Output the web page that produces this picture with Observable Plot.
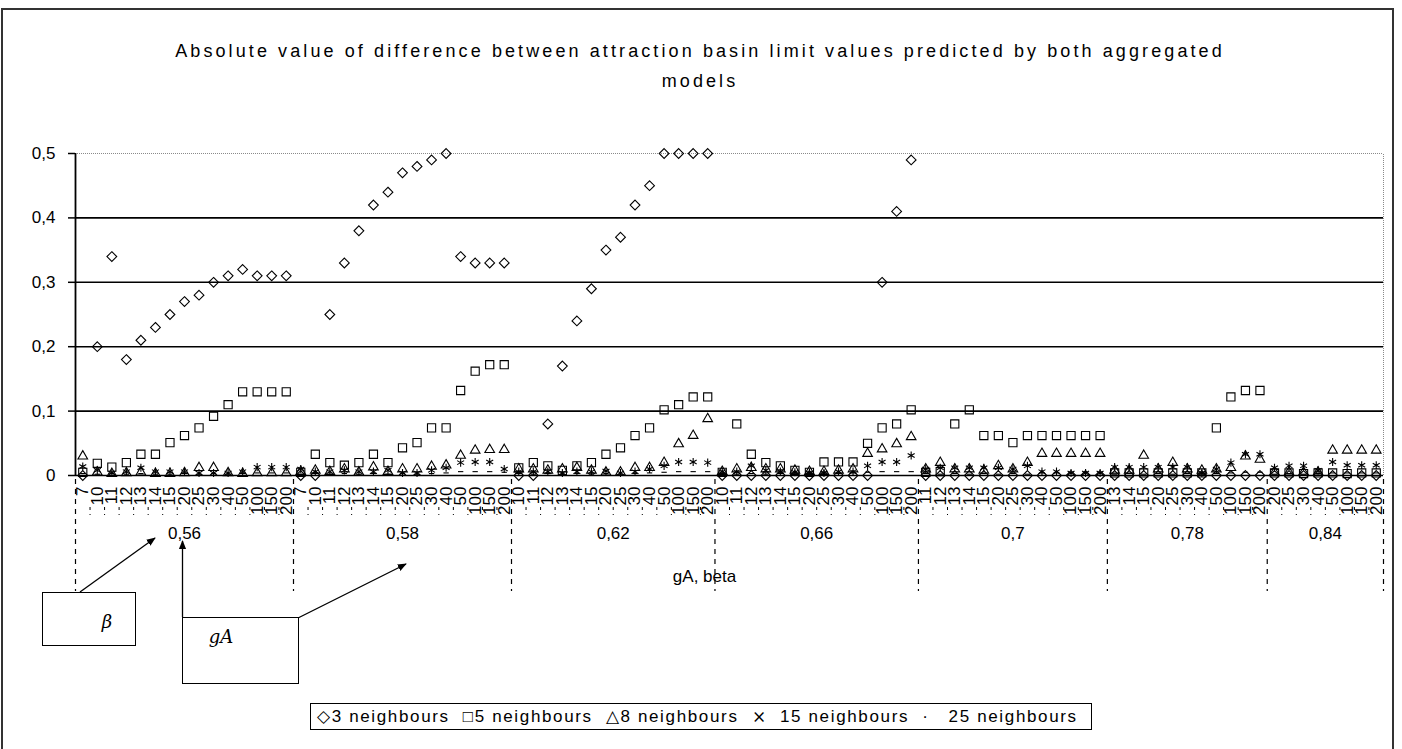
<!DOCTYPE html>
<html><head><meta charset="utf-8">
<script src="https://cdn.jsdelivr.net/npm/d3@7"></script>
<script src="https://cdn.jsdelivr.net/npm/@observablehq/plot@0.6"></script>
<style>
body{margin:0;background:#fff;font-family:"Liberation Sans",Arial,sans-serif;color:#000;}
#page{position:relative;width:1402px;height:749px;overflow:hidden;background:#fff;}
#frame{position:absolute;left:1px;top:8px;width:1393px;height:800px;border:2px solid #333;box-sizing:border-box;}
#title{position:absolute;left:50px;width:1300px;top:36px;text-align:center;font-size:18px;line-height:30px;letter-spacing:3.1px;}
#chart{position:absolute;left:0;top:120px;}
#legend{position:absolute;left:310px;top:703px;width:782px;height:27px;border:1px solid #000;box-sizing:border-box;font-size:17px;line-height:25px;white-space:nowrap;padding-left:6px;letter-spacing:1.65px;}
#legend span{margin-right:13px;}
#notes{position:absolute;left:0;top:0;pointer-events:none;}
</style></head>
<body>
<div id="page">
  <div id="frame"></div>
  <div id="title">Absolute value of difference between attraction basin limit values predicted by both aggregated<br>models</div>
  <div id="chart"></div>
  <svg id="notes" width="1402" height="749">
    <defs>
      <marker id="ah" viewBox="0 0 10 10" refX="9" refY="5" markerWidth="7" markerHeight="7" orient="auto-start-reverse">
        <path d="M0,1 L10,5 L0,9 z" fill="#000"/>
      </marker>
    </defs>
    <rect x="42.5" y="592.5" width="93" height="53" fill="#fff" stroke="#000"/>
    <text x="107" y="628" font-family="DejaVu Serif, serif" font-style="italic" font-size="18" text-anchor="middle">β</text>
    <line x1="80" y1="592" x2="155" y2="538" stroke="#000" stroke-width="1.3" marker-end="url(#ah)"/>
    <rect x="182.5" y="617.5" width="116" height="66" fill="#fff" stroke="#000"/>
    <text x="221" y="643" font-family="DejaVu Serif, serif" font-style="italic" font-size="18" text-anchor="middle">gA</text>
    <line x1="182.5" y1="617" x2="182.5" y2="541" stroke="#000" stroke-width="1.3" marker-end="url(#ah)"/>
    <line x1="298" y1="618" x2="406" y2="564" stroke="#000" stroke-width="1.3" marker-end="url(#ah)"/>
  </svg>
  <div id="legend"><span>◇3 neighbours</span><span>□5 neighbours</span><span>△8 neighbours</span><span>⨯&nbsp;&nbsp;15 neighbours</span><span>·&nbsp;&nbsp;&nbsp;25 neighbours</span></div>
</div>
<script>
// group (gA) labels and beta labels per group
const gAValues = ["0,56", "0,58", "0,62", "0,66", "0,7", "0,78", "0,84"];
const betaG056 = ["7","10","11","12","13","14","15","20","25","30","40","50","100","150","200"];
const betaG058 = ["7","10","11","12","13","14","15","20","25","30","40","50","100","150","200"];
const betaG062 = ["10","11","12","13","14","15","20","25","30","40","50","100","150","200"];
const betaG066 = ["10","11","12","13","14","15","20","25","30","40","50","100","150","200"];
const betaG070 = ["11","12","13","14","15","20","25","30","40","50","100","150","200"];
const betaG078 = ["13","14","15","20","25","30","40","50","100","150","200"];
const betaG084 = ["20","25","30","40","50","100","150","200"];
const yTicks = [0, 0.1, 0.2, 0.3, 0.4, 0.5];

// series values, one per category (in group order)
const n3 = [
  0, 0.20, 0.34, 0.18, 0.21, 0.23, 0.25, 0.27, 0.28, 0.30, 0.31, 0.32, 0.31, 0.31, 0.31,
  0, 0, 0.25, 0.33, 0.38, 0.42, 0.44, 0.47, 0.48, 0.49, 0.50, 0.34, 0.33, 0.33, 0.33,
  0, 0, 0.08, 0.17, 0.24, 0.29, 0.35, 0.37, 0.42, 0.45, 0.50, 0.50, 0.50, 0.50,
  0, 0, 0, 0, 0, 0, 0, 0, 0, 0, 0, 0.30, 0.41, 0.49,
  0, 0, 0, 0, 0, 0, 0, 0, 0, 0, 0, 0, 0,
  0, 0, 0, 0, 0, 0, 0, 0, 0, 0, 0,
  0, 0, 0, 0, 0, 0, 0, 0
];
const n5 = [
  0.005, 0.019, 0.013, 0.02, 0.033, 0.033, 0.051, 0.062, 0.074, 0.092, 0.11, 0.13, 0.13, 0.13, 0.13,
  0.005, 0.033, 0.02, 0.016, 0.02, 0.033, 0.02, 0.043, 0.051, 0.074, 0.074, 0.132, 0.162, 0.172, 0.172,
  0.012, 0.02, 0.015, 0.008, 0.015, 0.02, 0.033, 0.043, 0.062, 0.074, 0.102, 0.11, 0.122, 0.122,
  0.005, 0.08, 0.033, 0.02, 0.015, 0.008, 0.005, 0.021, 0.021, 0.021, 0.05, 0.074, 0.08, 0.102,
  0.005, 0.006, 0.08, 0.102, 0.062, 0.062, 0.051, 0.062, 0.062, 0.062, 0.062, 0.062, 0.062,
  0.004, 0.004, 0.004, 0.004, 0.004, 0.004, 0.004, 0.074, 0.122, 0.132, 0.132,
  0.004, 0.004, 0.003, 0.004, 0.004, 0.003, 0.004, 0.004
];
const n8 = [
  0.03, 0.005, 0.003, 0.004, 0.005, 0.003, 0.003, 0.004, 0.012, 0.012, 0.004, 0.003, 0.004, 0.004, 0.004,
  0.006, 0.008, 0.006, 0.01, 0.005, 0.013, 0.006, 0.01, 0.01, 0.014, 0.016, 0.031, 0.039, 0.04, 0.04,
  0.01, 0.01, 0.008, 0.01, 0.012, 0.008, 0.005, 0.005, 0.012, 0.012, 0.02, 0.049, 0.062, 0.088,
  0.006, 0.01, 0.012, 0.01, 0.01, 0.008, 0.006, 0.006, 0.008, 0.01, 0.034, 0.041, 0.049, 0.06,
  0.01, 0.02, 0.01, 0.01, 0.008, 0.015, 0.01, 0.02, 0.034, 0.034, 0.034, 0.034, 0.034,
  0.008, 0.008, 0.031, 0.01, 0.02, 0.01, 0.008, 0.01, 0.012, 0.03, 0.025,
  0.005, 0.005, 0.005, 0.005, 0.039, 0.039, 0.039, 0.039
];
const n15 = [
  0.014, 0.008, 0.004, 0.006, 0.012, 0.006, 0.006, 0.006, 0.004, 0.004, 0.004, 0.006, 0.013, 0.013, 0.013,
  0.01, 0.006, 0.006, 0.008, 0.006, 0.006, 0.008, 0.004, 0.004, 0.008, 0.012, 0.02, 0.021, 0.021, 0.01,
  0.006, 0.006, 0.006, 0.004, 0.006, 0.006, 0.007, 0.004, 0.006, 0.01, 0.015, 0.021, 0.021, 0.02,
  0.006, 0.006, 0.015, 0.008, 0.006, 0.005, 0.004, 0.004, 0.006, 0.006, 0.015, 0.021, 0.021, 0.031,
  0.01, 0.012, 0.012, 0.012, 0.012, 0.012, 0.01, 0.015, 0.006, 0.006, 0.004, 0.004, 0.004,
  0.013, 0.013, 0.013, 0.013, 0.013, 0.013, 0.004, 0.01, 0.02, 0.033, 0.033,
  0.012, 0.015, 0.015, 0.008, 0.021, 0.016, 0.016, 0.016
];
const n25 = [
  0.003, 0.002, 0.003, 0.002, 0.003, 0.002, 0.002, 0.003, 0.002, 0.003, 0.002, 0.003, 0.004, 0.004, 0.004,
  0.002, 0.003, 0.002, 0.003, 0.002, 0.003, 0.002, 0.003, 0.002, 0.003, 0.004, 0.006, 0.006, 0.006, 0.005,
  0.003, 0.002, 0.003, 0.002, 0.003, 0.002, 0.003, 0.002, 0.003, 0.004, 0.005, 0.006, 0.006, 0.006,
  0.003, 0.002, 0.003, 0.002, 0.003, 0.002, 0.003, 0.002, 0.003, 0.004, 0.005, 0.006, 0.006, 0.006,
  0.003, 0.002, 0.003, 0.002, 0.003, 0.002, 0.003, 0.002, 0.004, 0.004, 0.004, 0.004, 0.004,
  0.002, 0.003, 0.002, 0.003, 0.002, 0.003, 0.002, 0.003, 0.004, 0.005, 0.005,
  0.002, 0.003, 0.002, 0.003, 0.004, 0.004, 0.004, 0.004
];

const betaByGroup = [betaG056, betaG058, betaG062, betaG066, betaG070, betaG078, betaG084];
const cats = [];
betaByGroup.forEach((betas, g) => betas.forEach(b => cats.push({i: cats.length, g, beta: b})));
cats.forEach(c => c.x = c.i + 0.5);
const N = cats.length;
const edges = [0];
betaByGroup.forEach(b => edges.push(edges[edges.length - 1] + b.length));
const groups = gAValues.map((label, g) => ({label, x: (edges[g] + edges[g + 1]) / 2}));
const innerTicks = d3.range(1, N).filter(v => !edges.includes(v));

const dash = {draw(ctx, size) { const r = Math.sqrt(size) * 0.6; ctx.moveTo(-r, 0); ctx.lineTo(r, 0); }};
const series = [
  {values: n3, symbol: "diamond2", r: 4.4},
  {values: n5, symbol: "square2", r: 5.2},
  {values: n8, symbol: "triangle2", r: 4.6},
  {values: n15, symbol: "asterisk", r: 3.8},
  {values: n25, symbol: dash, r: 2.5}
];

const fmt = d => String(d).replace(".", ",");

const chart = Plot.plot({
  width: 1402, height: 480,
  marginLeft: 75, marginRight: 19, marginTop: 33, marginBottom: 125,
  x: {domain: [0, N], axis: null},
  y: {domain: [0, 0.5], axis: null},
  style: {fontFamily: '"Liberation Sans", Arial, sans-serif', fontSize: "17px", color: "#000", background: "transparent", overflow: "visible"},
  marks: [
    Plot.ruleY([0.1, 0.2, 0.3, 0.4], {stroke: "#000", strokeWidth: 1.6}),
    Plot.ruleY([0.5], {stroke: "#8a8a8a", strokeDasharray: "1,1"}),
    Plot.ruleX([N], {y1: 0, y2: 0.5, stroke: "#8a8a8a", strokeDasharray: "1,1"}),
    Plot.axisY({ticks: yTicks, tickSize: 7, tickPadding: 13, tickFormat: fmt, fontSize: 17, label: null, strokeWidth: 1.5}),
    Plot.ruleX([0], {y1: 0, y2: 0.5, stroke: "#000", strokeWidth: 1.8}),
    Plot.ruleX(innerTicks, {x: d => d, y1: () => 0, y2: () => 0, insetTop: 32, insetBottom: -40, stroke: "#000", strokeDasharray: "3,4"}),
    Plot.ruleX(edges, {x: d => d, y1: () => 0, y2: () => 0, insetTop: 4, insetBottom: -116, stroke: "#000", strokeWidth: 1.2, strokeDasharray: "5,5"}),
    Plot.text(cats, {x: "x", y: () => 0, text: "beta", rotate: -90, textAnchor: "end", lineAnchor: "middle", dy: 11, fontSize: 17}),
    Plot.text(groups, {x: "x", y: () => 0, text: "label", dy: 58, fontSize: 17}),
    Plot.text(["gA, beta"], {frameAnchor: "bottom", text: d => d, dy: 106, dx: -25, fontSize: 17}),
    ...series.map(s => Plot.dot(cats, {x: "x", y: d => s.values[d.i], symbol: s.symbol, r: s.r, stroke: "#000", fill: "none", strokeWidth: 1.1})),
    Plot.ruleY([0], {stroke: "#000", strokeWidth: 1.6})
  ]
});
document.getElementById("chart").appendChild(chart);
</script>
</body></html>
